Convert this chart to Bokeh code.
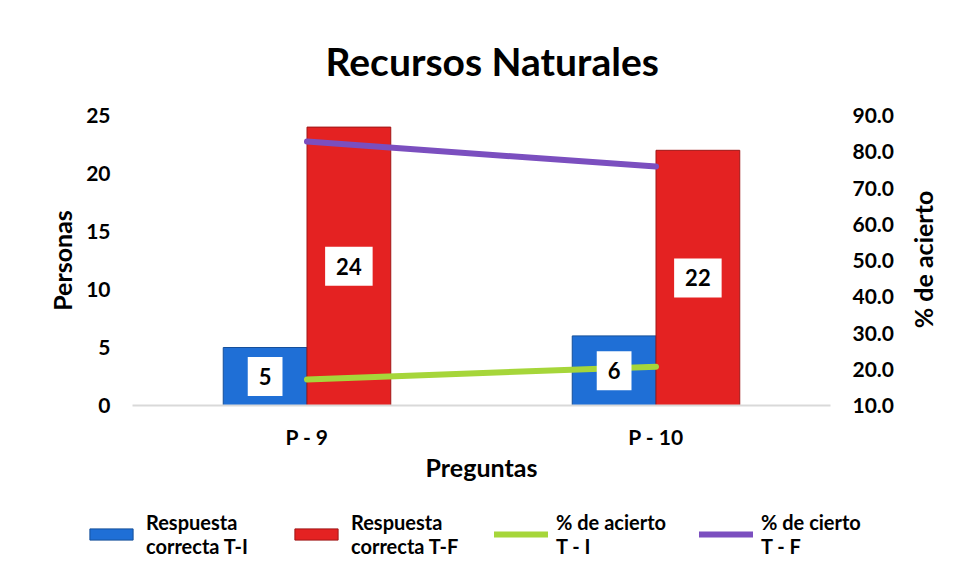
import math
from bokeh.plotting import figure
from bokeh.layouts import column, row
from bokeh.models import (ColumnDataSource, FactorRange, Range1d, LinearAxis,
                          Legend, LegendItem, FixedTicker, PrintfTickFormatter)
from bokeh.transform import dodge
from bokeh.core.properties import value
from bokeh.embed import file_html
from bokeh.resources import INLINE

# ---- data ----
preguntas = ["P - 9", "P - 10"]
correcta_ti = [5, 6]
correcta_tf = [24, 22]
pct_acierto_ti = [17.2, 20.7]
pct_cierto_tf = [82.8, 75.9]
left_ticks = [0, 5, 10, 15, 20, 25]
right_ticks = [10, 20, 30, 40, 50, 60, 70, 80, 90]
serie_names = ["Respuesta\ncorrecta T-I", "Respuesta\ncorrecta T-F", "% de acierto\nT - I", "% de cierto\nT - F"]
right_axis_title = "% de acierto"

FONT = "Lato"
BLUE = "#1f6fd6"
RED = "#e42222"
GREEN = "#a6d63a"
PURPLE = "#7b4fbf"

src = ColumnDataSource(dict(
    cat=preguntas,
    ti=correcta_ti,
    tf=correcta_tf,
    ti_mid=[v / 2 for v in correcta_ti],
    tf_mid=[v / 2 for v in correcta_tf],
    ti_txt=[str(v) for v in correcta_ti],
    tf_txt=[str(v) for v in correcta_tf],
    p_ti=pct_acierto_ti,
    p_tf=pct_cierto_tf,
))

p = figure(width=905, height=490, x_range=FactorRange(*preguntas, range_padding=0),
           y_range=Range1d(0, 25), output_backend="svg", toolbar_location=None,
           min_border_left=132, min_border_right=75, min_border_top=115, min_border_bottom=85,
           title="Recursos Naturales")
p.extra_y_ranges = {"pct": Range1d(10, 90)}

p.outline_line_color = None
p.xgrid.grid_line_color = None
p.ygrid.grid_line_color = None
p.background_fill_color = "white"
p.border_fill_color = "white"

p.title.text_font = FONT
p.title.text_font_size = "39px"
p.title.text_font_style = "bold"
p.title.text_color = "black"
p.title.align = "left"
p.title.offset = 193
p.title.standoff = 64

def draw_series(fig):
    r1 = fig.vbar(x=dodge("cat", -0.12, range=fig.x_range), top="ti", width=0.24, source=src,
                  fill_color=BLUE, line_color="#154f9a", line_width=1)
    r2 = fig.vbar(x=dodge("cat", 0.12, range=fig.x_range), top="tf", width=0.24, source=src,
                  fill_color=RED, line_color="#a01616", line_width=1)
    r3 = fig.line(x="cat", y="p_ti", source=src, y_range_name="pct", line_color=GREEN,
                  line_width=6, line_cap="round")
    r4 = fig.line(x="cat", y="p_tf", source=src, y_range_name="pct", line_color=PURPLE,
                  line_width=6, line_cap="round")
    return [r1, r2, r3, r4]

draw_series(p)

for xoff, ycol, tcol in [(-0.12, "ti_mid", "ti_txt"), (0.12, "tf_mid", "tf_txt")]:
    p.text(x=dodge("cat", xoff, range=p.x_range), y=ycol, text=tcol, source=src,
           text_align="center", text_baseline="middle", text_font=value(FONT),
           text_font_size="22px", text_font_style="bold", text_color="black",
           background_fill_color="white", padding=11)

# left axis
ya = p.yaxis[0]
ya.ticker = FixedTicker(ticks=left_ticks)
ya.axis_label = "Personas"
ya.axis_line_color = None
ya.major_tick_line_color = None
ya.minor_tick_line_color = None
ya.major_label_standoff = 16
ya.axis_label_standoff = 6

# right axis (ticks); its title is drawn in the narrow strip to the right
ra = LinearAxis(y_range_name="pct", ticker=FixedTicker(ticks=right_ticks),
                formatter=PrintfTickFormatter(format="%.1f"))
ra.axis_line_color = None
ra.major_tick_line_color = None
ra.minor_tick_line_color = None
ra.major_label_standoff = 16
p.add_layout(ra, "right")

xa = p.xaxis[0]
xa.axis_label = "Preguntas"
xa.axis_line_color = "#d9d9d9"
xa.axis_line_width = 2
xa.major_tick_line_color = None
xa.minor_tick_line_color = None
xa.major_label_standoff = 12
xa.axis_label_standoff = 0

for ax in [ya, ra, xa]:
    ax.major_label_text_font = FONT
    ax.major_label_text_font_size = "21px"
    ax.major_label_text_font_style = "bold"
    ax.major_label_text_color = "black"
    ax.axis_label_text_font = FONT
    ax.axis_label_text_font_size = "25px"
    ax.axis_label_text_font_style = "bold"
    ax.axis_label_text_color = "black"

# ---- right strip holding the secondary axis title ----
pr = figure(width=50, height=490, x_range=Range1d(0, 50), y_range=Range1d(0, 490),
            output_backend="svg", toolbar_location=None,
            x_axis_location=None, y_axis_location=None,
            min_border_left=0, min_border_right=0, min_border_top=0, min_border_bottom=0)
pr.outline_line_color = None
pr.xgrid.visible = False
pr.ygrid.visible = False
pr.border_fill_color = "white"
pr.text(x=[17], y=[231], text=[right_axis_title], angle=math.pi / 2,
        text_align="center", text_baseline="middle", text_font=value(FONT),
        text_font_size="25px", text_font_style="bold", text_color="black")

# ---- legend strip (its series renderers are hidden, only the legend shows) ----
pl = figure(width=955, height=82, x_range=FactorRange(*preguntas, range_padding=0),
            y_range=Range1d(-100, -90), output_backend="svg", toolbar_location=None,
            x_axis_location=None, y_axis_location=None,
            min_border_left=0, min_border_right=0, min_border_top=0, min_border_bottom=0)
pl.extra_y_ranges = {"pct": Range1d(-100, -90)}
pl.outline_line_color = None
pl.xgrid.visible = False
pl.ygrid.visible = False
pl.border_fill_color = "white"
for fig in (p, pl, pr):
    try:
        fig.frame_align = False
    except Exception:
        pass
leg_r = draw_series(pl)
for r in leg_r:
    r.visible = False

legend = Legend(items=[LegendItem(label=n, renderers=[r]) for n, r in zip(serie_names, leg_r)],
                orientation="horizontal", location=(84, 14), padding=0, margin=0, spacing=0,
                glyph_width=54, glyph_height=14, label_standoff=8, label_width=143,
                label_text_font=FONT, label_text_font_size="20px", label_text_font_style="bold",
                label_text_color="black", label_text_line_height=1.6,
                inactive_fill_alpha=0, border_line_color=None, background_fill_alpha=0)
pl.add_layout(legend, "center")

layout = column(row(p, pr, spacing=0), pl, spacing=0)
open("out.html", "w").write(file_html(layout, INLINE))
